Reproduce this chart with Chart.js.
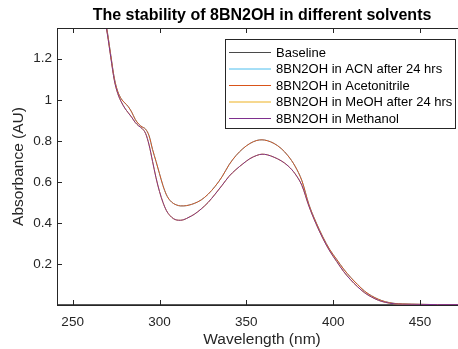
<!DOCTYPE html>
<html>
<head>
<meta charset="utf-8">
<script src="https://cdn.jsdelivr.net/npm/chart.js@4"></script>
<style>
  html, body { margin: 0; padding: 0; background: #fff; overflow: hidden; }
  #wrap { width: 472px; height: 349px; }
</style>
</head>
<body>
<div id="wrap"><canvas id="uvChart" width="472" height="349"></canvas></div>
<script>
// wavelengths (nm) shared by the sample spectra
const wavelengths = [266, 268, 270, 272, 274, 276, 278, 280, 282, 284, 286, 288, 290, 292, 294, 296, 298, 300,
  302, 304, 306, 308, 310, 312, 314, 317, 320, 324, 328, 332, 336, 340, 344, 348, 352, 356, 359, 362,
  366, 370, 374, 378, 382, 386, 390, 394, 398, 402, 406, 410, 414, 418, 422, 426, 430, 435, 440, 450, 460, 477];

const baselineWl = [241, 477];
const baseline = [0.002, 0.002];

const acnAfter24 = [1.55, 1.43, 1.33, 1.215, 1.105, 1.04, 1.005, 0.985, 0.967, 0.94, 0.905, 0.882, 0.868, 0.857, 0.825, 0.758, 0.7, 0.64,
  0.582, 0.537, 0.51, 0.495, 0.487, 0.483, 0.483, 0.487, 0.495, 0.512, 0.54, 0.578, 0.625, 0.683, 0.728, 0.762, 0.787, 0.802, 0.805, 0.801,
  0.787, 0.763, 0.727, 0.677, 0.605, 0.49, 0.405, 0.332, 0.27, 0.222, 0.175, 0.135, 0.1, 0.068, 0.045, 0.028, 0.016, 0.008, 0.005, 0.003, 0.002, 0.002];

const acetonitrile = [1.55, 1.43, 1.33, 1.215, 1.105, 1.04, 1.005, 0.985, 0.967, 0.94, 0.905, 0.882, 0.868, 0.857, 0.825, 0.758, 0.7, 0.64,
  0.582, 0.537, 0.51, 0.495, 0.487, 0.483, 0.483, 0.487, 0.495, 0.512, 0.54, 0.578, 0.625, 0.683, 0.728, 0.762, 0.787, 0.802, 0.805, 0.801,
  0.787, 0.763, 0.727, 0.677, 0.605, 0.49, 0.405, 0.332, 0.27, 0.222, 0.175, 0.135, 0.1, 0.068, 0.045, 0.028, 0.016, 0.008, 0.005, 0.003, 0.002, 0.002];

const meohAfter24 = [1.54, 1.42, 1.32, 1.205, 1.095, 1.03, 0.99, 0.96, 0.937, 0.915, 0.89, 0.873, 0.86, 0.836, 0.78, 0.7, 0.62, 0.553,
  0.5, 0.46, 0.436, 0.421, 0.414, 0.413, 0.416, 0.428, 0.442, 0.468, 0.5, 0.54, 0.583, 0.627, 0.66, 0.688, 0.713, 0.729, 0.735, 0.732,
  0.72, 0.703, 0.678, 0.64, 0.582, 0.482, 0.398, 0.325, 0.263, 0.212, 0.163, 0.123, 0.089, 0.06, 0.039, 0.023, 0.013, 0.006, 0.004, 0.003, 0.002, 0.002];

const methanol = [1.54, 1.42, 1.32, 1.205, 1.095, 1.03, 0.99, 0.96, 0.937, 0.915, 0.89, 0.873, 0.86, 0.836, 0.78, 0.7, 0.62, 0.553,
  0.5, 0.46, 0.436, 0.421, 0.414, 0.413, 0.416, 0.428, 0.442, 0.468, 0.5, 0.54, 0.583, 0.627, 0.66, 0.688, 0.713, 0.729, 0.735, 0.732,
  0.72, 0.703, 0.678, 0.64, 0.582, 0.482, 0.398, 0.325, 0.263, 0.212, 0.163, 0.123, 0.089, 0.06, 0.039, 0.023, 0.013, 0.006, 0.004, 0.003, 0.002, 0.002];

const xTicks = [250, 300, 350, 400, 450];
const yTicks = [0.2, 0.4, 0.6, 0.8, 1.0, 1.2];

const seriesNames = ['Baseline', '8BN2OH in ACN after 24 hrs', '8BN2OH in Acetonitrile', '8BN2OH in MeOH after 24 hrs', '8BN2OH in Methanol'];
const seriesColors = ['#4a4a4a', '#4DBEEE', '#D95319', '#EDB120', '#7E2F8E'];

const FONT = '"Liberation Sans", Arial, Helvetica, sans-serif';
const AXIS_COLOR = '#262626';

function toPoints(xs, ys) {
  return xs.map((x, i) => ({ x: x, y: ys[i] }));
}

const seriesData = [
  toPoints(baselineWl, baseline),
  toPoints(wavelengths, acnAfter24),
  toPoints(wavelengths, acetonitrile),
  toPoints(wavelengths, meohAfter24),
  toPoints(wavelengths, methanol)
];

// MATLAB-ish axes: box, inward ticks, title and legend
const matlabLook = {
  id: 'matlabLook',
  afterDatasetsDraw(chart) {
    const { ctx, chartArea: a } = chart;
    const xs = chart.scales.x, ys = chart.scales.y;
    ctx.save();
    ctx.strokeStyle = AXIS_COLOR;
    ctx.lineWidth = 1;
    ctx.strokeRect(Math.round(a.left) + 0.5, Math.round(a.top) + 0.5,
      Math.round(a.right - a.left), Math.round(a.bottom - a.top));
    ctx.beginPath();
    xTicks.forEach(v => {
      const px = Math.round(xs.getPixelForValue(v)) + 0.5;
      ctx.moveTo(px, a.bottom); ctx.lineTo(px, a.bottom - 5);
      ctx.moveTo(px, a.top); ctx.lineTo(px, a.top + 5);
    });
    yTicks.forEach(v => {
      const py = Math.round(ys.getPixelForValue(v)) + 0.5;
      ctx.moveTo(a.left, py); ctx.lineTo(a.left + 5, py);
      ctx.moveTo(a.right, py); ctx.lineTo(a.right - 5, py);
    });
    ctx.stroke();

    // title
    ctx.fillStyle = '#000';
    ctx.font = 'bold 16px ' + FONT;
    ctx.textAlign = 'center';
    ctx.textBaseline = 'middle';
    ctx.fillText('The stability of 8BN2OH in different solvents', (a.left + a.right) / 2, 16);

    // legend
    const lx = 225.5, ly = 39.5, lw = 230, lh = 89;
    ctx.fillStyle = '#fff';
    ctx.fillRect(lx, ly, lw, lh);
    ctx.strokeStyle = AXIS_COLOR;
    ctx.strokeRect(lx, ly, lw, lh);
    ctx.font = '13px ' + FONT;
    ctx.textAlign = 'left';
    chart.data.datasets.forEach((ds, i) => {
      const ry = 52.5 + i * 16.5;
      ctx.strokeStyle = ds.borderColor;
      ctx.beginPath();
      ctx.moveTo(229, ry); ctx.lineTo(271, ry);
      ctx.stroke();
      ctx.fillStyle = '#000';
      ctx.fillText(ds.label, 276, ry + 0.5);
    });
    ctx.restore();
  }
};

const ctx = document.getElementById('uvChart').getContext('2d');
const uvChart = new Chart(ctx, {
  type: 'line',
  data: {
    datasets: seriesNames.map((name, i) => ({
      label: name,
      data: seriesData[i],
      borderColor: seriesColors[i],
      backgroundColor: seriesColors[i],
      borderWidth: 1,
      pointRadius: 0,
      fill: false,
      cubicInterpolationMode: 'monotone',
      order: seriesNames.length - i
    }))
  },
  options: {
    responsive: false,
    animation: false,
    devicePixelRatio: 1,
    layout: { padding: { left: 0, top: 28, right: 5, bottom: 0 } },
    plugins: {
      legend: { display: false },
      title: { display: false },
      tooltip: { enabled: false }
    },
    scales: {
      x: {
        type: 'linear',
        min: 241,
        max: 477,
        afterBuildTicks: s => { s.ticks = xTicks.map(v => ({ value: v })); },
        afterFit: s => { s.height = 44; },
        grid: { display: false, drawTicks: false },
        border: { display: false },
        ticks: {
          color: AXIS_COLOR,
          font: { family: FONT, size: 13.5 },
          padding: 9,
          maxRotation: 0,
          callback: v => String(v)
        },
        title: {
          display: true,
          text: 'Wavelength (nm)',
          color: AXIS_COLOR,
          font: { family: FONT, size: 15.5 },
          padding: { top: 0, bottom: 0 }
        }
      },
      y: {
        type: 'linear',
        min: 0,
        max: 1.35,
        afterBuildTicks: s => { s.ticks = yTicks.map(v => ({ value: v })); },
        afterFit: s => { s.width = 57; },
        grid: { display: false, drawTicks: false },
        border: { display: false },
        ticks: {
          color: AXIS_COLOR,
          font: { family: FONT, size: 13.5 },
          padding: 5,
          callback: v => (Math.abs(v - 1) < 1e-9 ? '1' : String(Math.round(v * 10) / 10))
        },
        title: {
          display: true,
          text: 'Absorbance (AU)',
          color: AXIS_COLOR,
          font: { family: FONT, size: 15.5 },
          padding: { top: 9, bottom: 0 }
        }
      }
    }
  },
  plugins: [matlabLook]
});
</script>
</body>
</html>
